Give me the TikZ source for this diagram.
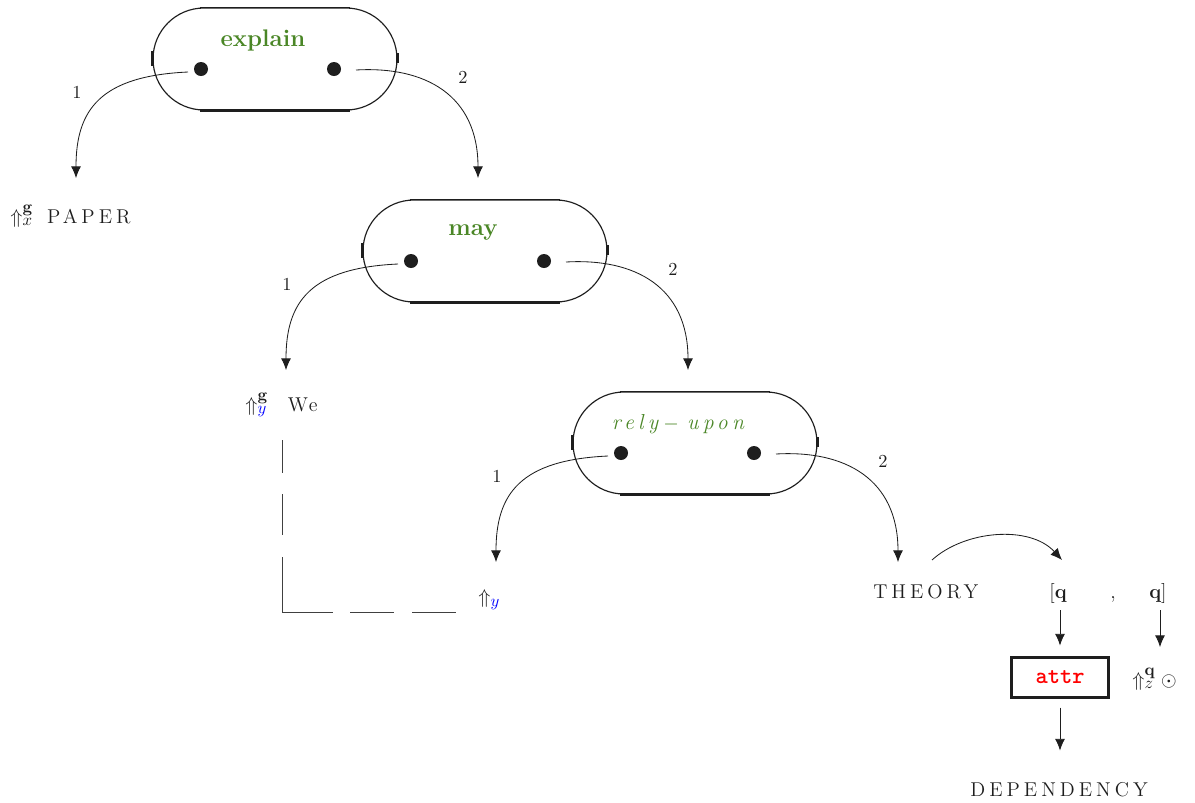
\documentclass[tikz,border=0pt]{standalone}
\usepackage{fontspec}
\setmainfont{Latin Modern Roman}
\usetikzlibrary{arrows.meta,shapes.misc}

% one drawing unit
\newdimen\pxu \pxu=0.6pt

% large scripts for the role markers
\DeclareMathSizes{12}{12}{10}{8}

\definecolor{predgreen}{RGB}{74,134,38}
\definecolor{ink}{RGB}{30,30,30}

% widely spaced capitals for the lexical heads
\newcommand\spacedcaps[1]{{\addfontfeature{LetterSpace=20}#1}}
\newcommand\spacedit[1]{{\addfontfeature{LetterSpace=20}#1}}

% a predicate frame: stadium outline with thickened bottom, top and side ticks,
% two argument slots, and two argument links
\newcommand\predframe[5]{% name, x, y, label style, label text
  \node[predbox] (#1) at (#2,#3) {};
  \draw[line width=1pt,ink] ([xshift=-75\pxu]#1.north) -- ([xshift=75\pxu]#1.north);
  \draw[line width=2pt,ink] ([xshift=-75\pxu]#1.south) -- ([xshift=75\pxu]#1.south);
  \draw[line width=1.6pt,ink] ([yshift=8\pxu]#1.west) -- ([yshift=-7\pxu]#1.west);
  \draw[line width=1.6pt,ink] ([yshift=6\pxu]#1.east) -- ([yshift=-4\pxu]#1.east);
  \node[#4] (#1-name) at ([shift={(-12,-19)}]#1.center) {#5};
  \node[slot] (#1-l) at ([shift={(-74,10)}]#1.center) {};
  \node[slot] (#1-r) at ([shift={(59,10)}]#1.center) {};
  \coordinate (#1-lend) at ([shift={(-125,109)}]#1-l.center);
  \coordinate (#1-rend) at ([shift={(144,109)}]#1-r.center);
  \draw[link] ([shift={(-13,3)}]#1-l.center)
      .. controls +(-88,4) and +(0,-68) .. (#1-lend);
  \draw[link] ([shift={(22,1)}]#1-r.center)
      .. controls +(69,-4) and +(0,-83) .. (#1-rend);
  \node[argnum] (#1-n1) at ([shift={(-124,23)}]#1-l.center) {1};
  \node[argnum] (#1-n2) at ([shift={(129,8)}]#1-r.center) {2};
}

\begin{document}
\begin{tikzpicture}[x=0.6pt,y=-0.6pt,
  predbox/.style={draw=ink,line width=0.7pt,rounded rectangle,
    minimum width=244\pxu,minimum height=102\pxu,inner sep=0pt},
  slot/.style={circle,fill=ink,inner sep=0pt,minimum size=14\pxu},
  argnum/.style={font=\fontsize{11}{13}\selectfont,text=ink},
  predbf/.style={text=predgreen,font=\fontsize{14.4}{16}\selectfont\bfseries},
  predit/.style={text=predgreen,font=\fontsize{13}{15}\selectfont\itshape},
  word/.style={font=\fontsize{12}{14}\selectfont,text=ink,inner sep=0pt,anchor=base west},
  link/.style={draw=ink,line width=0.5pt,-{Latex[length=7pt,width=6pt]}},
  dashlink/.style={draw=ink!85,line width=0.5pt,
    dash pattern=on 19.8pt off 12.6pt on 24.6pt off 13.2pt on 63.6pt off 10.2pt on 26.4pt off 10.8pt on 26.4pt},
  attrbox/.style={draw=ink,line width=1.8pt,minimum width=97\pxu,minimum height=40\pxu,inner sep=0pt,
    text=red,font=\fontsize{14}{16}\selectfont\ttfamily\bfseries}]
\useasboundingbox (0,0) rectangle (1195,802);

% the three predicate frames
\predframe{explain}{275}{59}{predbf}{explain}
\predframe{may}{485}{251}{predbf}{may}
\predframe{rely}{695}{443}{predit}{\hspace{-6pt}\spacedit{rely}\hspace{3pt}$-$\hspace{5pt}\spacedit{upon}}

% argument fillers
\node[word] (paper) at (10,223) {$\Uparrow^{\mathbf{g}}_{x}$\hspace{8.5pt}\spacedcaps{PAPER}};
\node[word] (we) at (245,411) {$\Uparrow^{\mathbf{g}}_{\color{blue}y}$\hspace{12pt}{\addfontfeature{LetterSpace=12}We}};
\node[word] (uy) at (478,603) {$\Uparrow_{\color{blue}y}$};
\node[word] (theory) at (873,598) {\spacedcaps{THEORY}};
\node[word] (lq) at (1049,598) {$[\mathbf{q}$};
\node[word] (comma) at (1110,598) {,};
\node[word] (rq) at (1149,598) {$\mathbf{q}]$};
\node[attrbox] (attr) at (1060,677) {attr};
\node[word] (zq) at (1132,686) {$\Uparrow^{\mathbf{q}}_{z}\odot$};
\node[word] (dep) at (970,796) {\spacedcaps{DEPENDENCY}};

% co-reference of the subject
\coordinate (wedrop) at (282,440);
\coordinate (yjoin) at (456,612);
\draw[dashlink] (wedrop) |- (yjoin);

% modifier structure
\coordinate (thout) at (932,560);
\coordinate (lqin) at (1062,560);
\draw[link] (thout) .. controls (965,530) and (1030,525) .. (lqin);
\coordinate (lqout) at (1060,610);
\coordinate (rqout) at (1160,610);
\coordinate (rqend) at (1160,647);
\draw[link,shorten >=10\pxu] (lqout) -- (lqout |- attr.north);
\draw[link] (rqout) -- (rqend);
\coordinate (depin) at ([yshift=-52\pxu]attr.south);
\draw[link] ([yshift=-9\pxu]attr.south) -- (depin);
\end{tikzpicture}
\end{document}
